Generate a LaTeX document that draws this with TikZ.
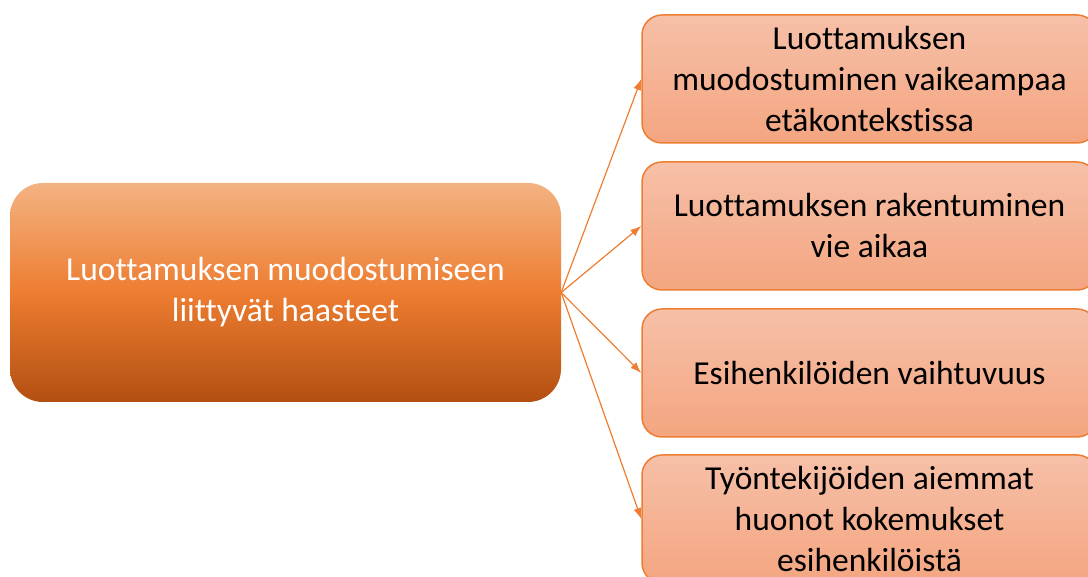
\documentclass[tikz,border=0pt]{standalone}
\usepackage{fontspec}
\setmainfont{Carlito}[Ligatures=NoCommon]
\usetikzlibrary{arrows.meta}

\definecolor{accent}{RGB}{237,125,49}
\definecolor{itemTop}{RGB}{246,192,168}
\definecolor{itemBot}{RGB}{244,165,128}

% vertical three-stop gradient of the central box
\pgfdeclareverticalshading{mainshade}{100bp}{
  rgb(0bp)=(0.69,0.30,0.06);
  rgb(25bp)=(0.70,0.31,0.07);
  rgb(50bp)=(0.93,0.49,0.19);
  rgb(75bp)=(0.955,0.70,0.51);
  rgb(100bp)=(0.955,0.70,0.51)}

\tikzset{
  mainbox/.style={rounded corners=33pt, minimum width=551pt, minimum height=219pt,
    inner sep=0pt, align=center, text=white, shading=mainshade,
    font=\fontsize{33.5}{41}\selectfont},
  itembox/.style={rounded corners=20pt, minimum width=455pt, minimum height=128pt,
    inner sep=0pt, align=center, text=black, draw=accent, line width=1.5pt,
    top color=itemTop, bottom color=itemBot,
    font=\fontsize{33.5}{41}\selectfont},
  link/.style={draw=accent, line width=1.2pt, -{Latex[length=11pt,width=8pt]}}
}

\begin{document}
\begin{tikzpicture}[x=1pt,y=1pt]
  \useasboundingbox (0,0) rectangle (1088,577);
  \clip (0,0) rectangle (1088,577);

  \node[mainbox] (main) at (285.5,284.5)
    {Luottamuksen muodostumiseen\\liittyvät haasteet};

  \node[itembox] (b1) at (869.5,498)
    {Luottamuksen\\muodostuminen vaikeampaa\\etäkontekstissa};
  \node[itembox] (b2) at (869.5,351)
    {Luottamuksen rakentuminen\\vie aikaa};
  \node[itembox] (b3) at (869.5,204)
    {Esihenkilöiden vaihtuvuus};
  \node[itembox] (b4) at (869.5,58)
    {Työntekijöiden aiemmat\\huonot kokemukset\\esihenkilöistä};

  \foreach \b in {b1,b2,b3,b4}
    \draw[link] (main.east) -- (\b.west);
\end{tikzpicture}
\end{document}
